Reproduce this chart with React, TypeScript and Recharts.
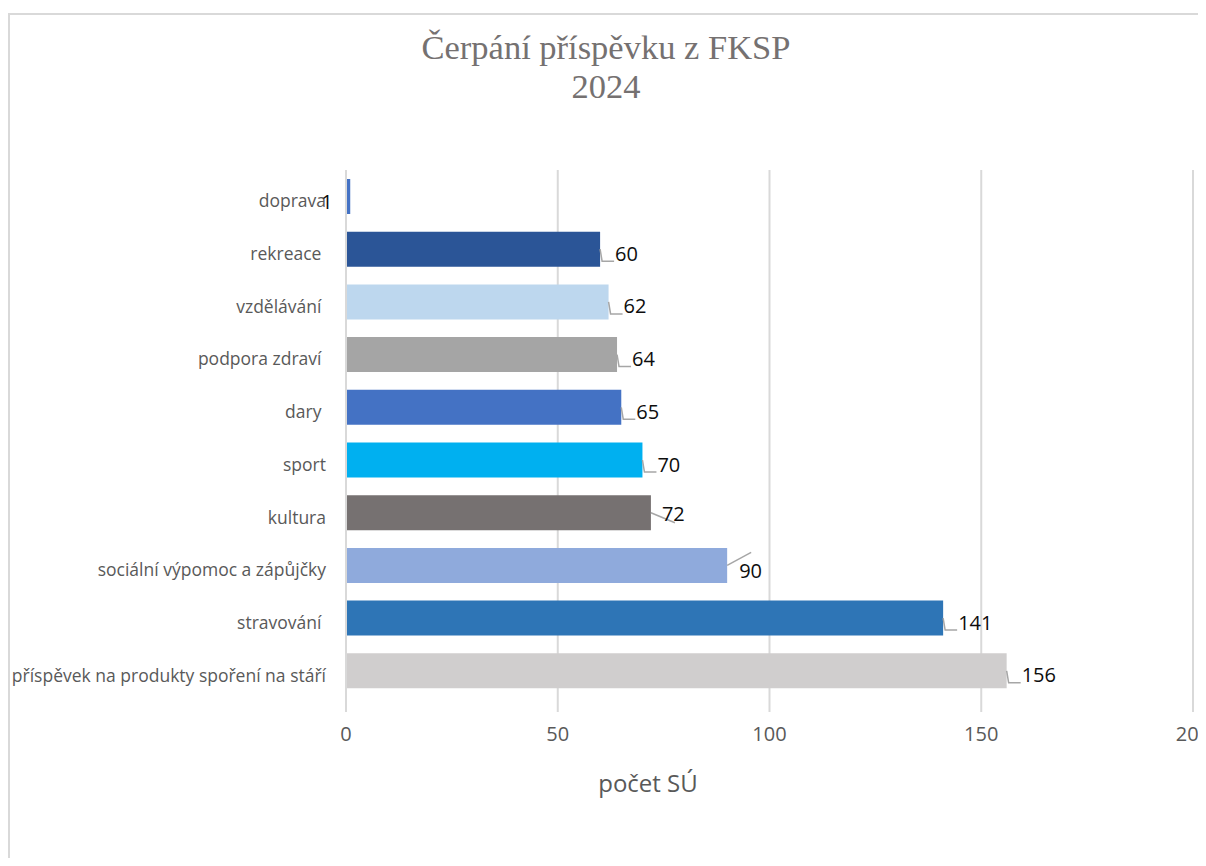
import React from "react";
import { BarChart, Bar, XAxis, YAxis, CartesianGrid, LabelList, Cell } from "recharts";

const categories = [
  "doprava",
  "rekreace\u00a0",
  "vzdělávání\u00a0",
  "podpora zdraví\u00a0",
  "dary\u00a0",
  "sport",
  "kultura",
  "sociální výpomoc a zápůjčky",
  "stravování\u00a0",
  "příspěvek na produkty spoření na stáří",
];
const values = [1, 60, 62, 64, 65, 70, 72, 90, 141, 156];
const colors = [
  "#4472C4",
  "#2B5597",
  "#BDD7EE",
  "#A5A5A5",
  "#4472C4",
  "#00B0F0",
  "#767171",
  "#8FAADC",
  "#2E75B6",
  "#D0CECE",
];
const xTicks = [0, 50, 100, 150, 200];

const data = categories.map((name, i) => ({ name, value: values[i], color: colors[i] }));

const FONT = "'Open Sans', 'Noto Sans', sans-serif";

type LeaderStyle = { pts: number[][]; tx: number; dy: number };
const defaultLeader: LeaderStyle = { pts: [[0, 0], [2, 12], [14, 12]], tx: 15, dy: 4 };
const leaderOverrides: Record<number, LeaderStyle> = {
  0: { pts: [], tx: -29, dy: 5 },
  6: { pts: [[0, 0], [24, 10]], tx: 11, dy: 1 },
  7: { pts: [[0, 0], [24, -13]], tx: 12, dy: 5 },
};

const renderLabel = (props: any) => {
  const { x, y, width, height, value, index } = props;
  const xe = Number(x) + Number(width);
  const cy = Number(y) + Number(height) / 2;
  const st = leaderOverrides[index] || defaultLeader;
  const pts = st.pts.map((p) => `${xe + p[0]},${cy + p[1]}`).join(" ");
  return (
    <g>
      {st.pts.length > 0 && (
        <polyline points={pts} fill="none" stroke="#A6A6A6" strokeWidth={1.5} />
      )}
      <text
        x={xe + st.tx}
        y={cy + st.dy}
        fill="#0D0D0D"
        fontSize={20}
        fontFamily={FONT}
        dominantBaseline="central"
        textAnchor="start"
      >
        {value}
      </text>
    </g>
  );
};

const CategoryTick = (props: any) => {
  const { x, y, payload } = props;
  return (
    <text
      x={x}
      y={y + 4}
      fill="#595959"
      fontSize={17.5}
      fontFamily={FONT}
      textAnchor="end"
      dominantBaseline="central"
      style={{ whiteSpace: "pre" }}
    >
      {payload.value}
    </text>
  );
};

export default function App() {
  return (
    <div style={{ width: 1240, height: 850, overflow: "hidden", position: "relative" }}>
      <style>{`html, body { overflow: hidden; }`}</style>
      <div
        style={{
          position: "absolute",
          left: 0,
          top: 5,
          width: 1300,
          height: 900,
          borderLeft: "2px solid #D9D9D9",
          borderTop: "2px solid #D9D9D9",
          boxSizing: "border-box",
        }}
      >
        <BarChart
          width={1290}
          height={843}
          data={data}
          layout="vertical"
          margin={{ top: 155, right: 107, bottom: 101, left: 0 }}
          barSize={35}
        >
          <CartesianGrid horizontal={false} vertical={true} stroke="#D9D9D9" strokeWidth={2} />
          <XAxis
            type="number"
            domain={[0, 200]}
            ticks={xTicks}
            axisLine={false}
            tickSize={15}
            tickMargin={15}
            tickLine={{ stroke: "#D9D9D9", strokeWidth: 2 }}
            height={60}
            tick={{ fill: "#595959", fontSize: 20, fontFamily: FONT }}
            interval={0}
          />
          <YAxis
            type="category"
            dataKey="name"
            width={336}
            axisLine={{ stroke: "#D9D9D9", strokeWidth: 2 }}
            tickLine={false}
            tickSize={6}
            tickMargin={14}
            interval={0}
            tick={<CategoryTick />}
          />
          <Bar dataKey="value" isAnimationActive={false}>
            {data.map((d, i) => (
              <Cell key={i} fill={d.color} />
            ))}
            <LabelList dataKey="value" content={renderLabel} />
          </Bar>
        </BarChart>
      </div>
      <div
        style={{
          position: "absolute",
          left: 0,
          top: 20,
          width: 1196,
          textAlign: "center",
          fontFamily: "'Liberation Serif', 'Times New Roman', serif",
          fontSize: 34.5,
          lineHeight: "39px",
          color: "#757171",
        }}
      >
        <div>Čerpání příspěvku z FKSP</div>
        <div>2024</div>
      </div>
      <div
        style={{
          position: "absolute",
          left: 540,
          top: 760,
          width: 200,
          textAlign: "center",
          fontFamily: FONT,
          fontSize: 24,
          lineHeight: "30px",
          color: "#595959",
        }}
      >
        počet SÚ
      </div>
    </div>
  );
}
